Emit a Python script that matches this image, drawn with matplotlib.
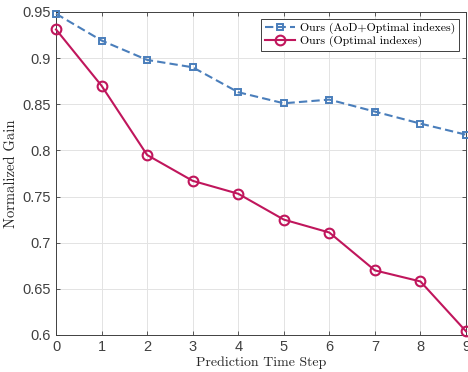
import matplotlib
matplotlib.use("Agg")
import matplotlib.pyplot as plt

steps = list(range(10))
aod_opt = [0.948, 0.919, 0.898, 0.890, 0.863, 0.851, 0.855, 0.842, 0.829, 0.817]
opt_only = [0.931, 0.870, 0.795, 0.767, 0.753, 0.725, 0.711, 0.670, 0.658, 0.604]
xticks = list(range(10))
yticks = [0.6, 0.65, 0.7, 0.75, 0.8, 0.85, 0.9, 0.95]
ytick_labels = ["0.6", "0.65", "0.7", "0.75", "0.8", "0.85", "0.9", "0.95"]

fig = plt.figure(figsize=(4.68, 3.72), dpi=100)
ax = fig.add_axes([0.1197, 0.0995, 0.876, 0.8685])

blue = "#4A7EBB"
red = "#C0165C"
ax.plot(steps, aod_opt, color=blue, ls=(0, (4, 2)), lw=1.5, marker="s", ms=4.5,
        mfc="none", mec=blue, mew=1.4, label="Ours (AoD+Optimal indexes)", clip_on=False, zorder=3)
ax.plot(steps, opt_only, color=red, ls="-", lw=1.5, marker="o", ms=7,
        mfc="none", mec=red, mew=1.5, label="Ours (Optimal indexes)", clip_on=False, zorder=3)

ax.set_xlim(0, 9)
ax.set_ylim(0.6, 0.95)
ax.set_xticks(xticks)
ax.set_yticks(yticks)
ax.set_yticklabels(ytick_labels)
ax.tick_params(direction="in", top=True, right=True, labelsize=10.5, colors="#404040",
               length=3, width=0.6)
for lab in ax.get_xticklabels() + ax.get_yticklabels():
    lab.set_fontfamily("Liberation Sans")
for s in ax.spines.values():
    s.set_color("#404040")
    s.set_linewidth(0.7)
ax.grid(True, color="#E3E3E3", lw=0.7)
ax.set_axisbelow(True)

ax.set_xlabel("Prediction Time Step", fontfamily="cmr10", fontsize=10, labelpad=2, color="#262626")
ax.set_ylabel("Normalized Gain", fontfamily="cmr10", fontsize=10.5, labelpad=3, color="#262626")

leg = ax.legend(loc="upper right", prop={"family": "cmr10", "size": 8.5}, fancybox=False,
                edgecolor="#404040", framealpha=1, handlelength=2.6, borderpad=0.3,
                labelspacing=0.15, handletextpad=0.4, borderaxespad=0.6)
leg.get_frame().set_linewidth(0.7)

fig.savefig("out.png", dpi=100)
